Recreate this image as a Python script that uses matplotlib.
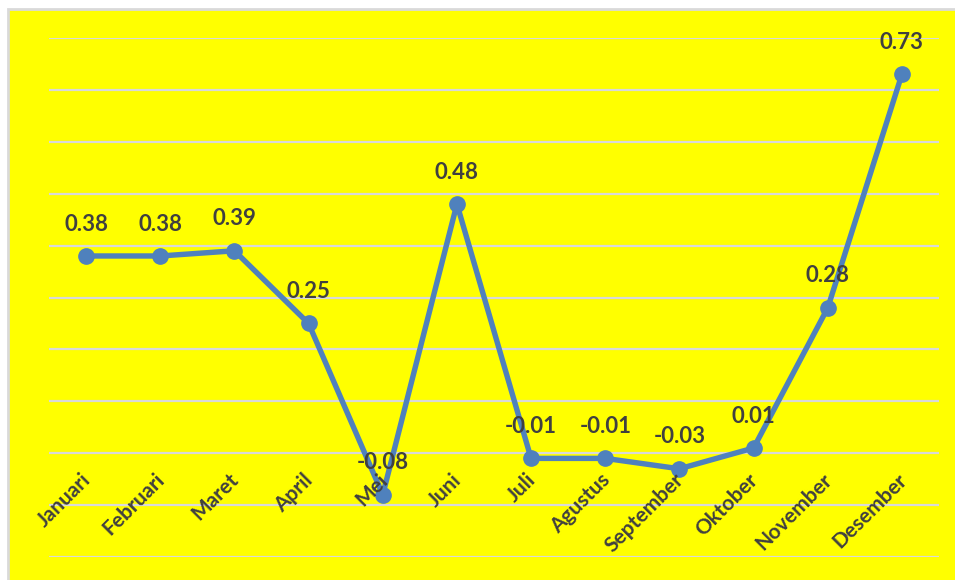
import matplotlib
matplotlib.use("Agg")
import matplotlib.pyplot as plt
from matplotlib.patches import Rectangle

months = ["Januari", "Februari", "Maret", "April", "Mei", "Juni", "Juli",
          "Agustus", "September", "Oktober", "November", "Desember"]
inflasi = [0.38, 0.38, 0.39, 0.25, -0.08, 0.48, -0.01, -0.01, -0.03, 0.01, 0.28, 0.73]
y_ticks = [-0.2, -0.1, 0.0, 0.1, 0.2, 0.3, 0.4, 0.5, 0.6, 0.7, 0.8]

plt.rcParams['font.family'] = ['Lato', 'DejaVu Sans']

bg = '#FFFF00'
line_color = '#4F81BD'
text_color = '#404040'
grid_color = '#D9D9D9'

fig = plt.figure(figsize=(9.55, 5.80), dpi=100, facecolor='white')
# yellow chart area with a thin grey frame on the top/left
fig.patches.append(Rectangle((8 / 955, -0.01), 1.0, 1 - 9 / 580 + 0.01,
                             transform=fig.transFigure, facecolor=bg,
                             edgecolor=grid_color, linewidth=2, zorder=-10))

ax = fig.add_axes([49 / 955, 1 - 557 / 580, (939 - 49) / 955, (557 - 38) / 580])
ax.set_facecolor('none')

x = list(range(len(months)))
ax.plot(x, inflasi, color=line_color, linewidth=3.9, marker='o',
        markersize=11, zorder=3, solid_capstyle='round')

for i, v in zip(x, inflasi):
    ax.annotate(f"{v:.2f}", xy=(i, v), xytext=(0, 23), textcoords='offset points',
                ha='center', va='center', fontsize=16, fontweight='bold',
                color=text_color, zorder=4)

# month labels hang below the zero line, rotated like Excel does it
for i, m in zip(x, months):
    ax.annotate(m, xy=(i, 0), xytext=(-4, -12), textcoords='offset points',
                ha='right', va='top', rotation=45, rotation_mode='anchor',
                fontsize=15, fontweight='bold', color=text_color)

ax.set_xlim(-0.5, len(months) - 0.5)
ax.set_ylim(y_ticks[0], y_ticks[-1])
ax.set_yticks(y_ticks)
ax.set_xticks([])
ax.tick_params(left=False, labelleft=False)
ax.grid(axis='y', color=grid_color, linewidth=1.6)
ax.set_axisbelow(True)
for s in ax.spines.values():
    s.set_visible(False)

plt.savefig("out.png", dpi=100, facecolor=fig.get_facecolor())
